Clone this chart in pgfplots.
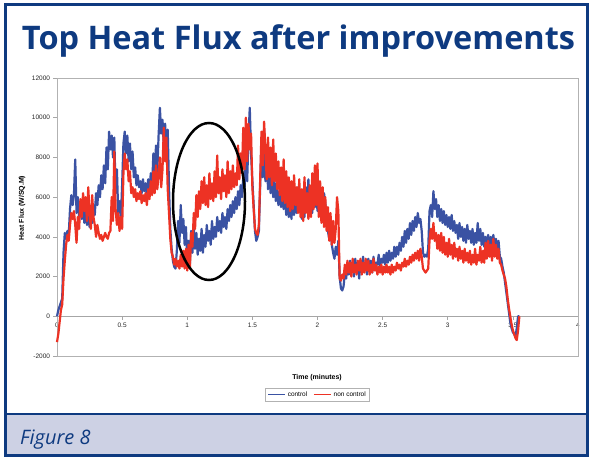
\documentclass[border=0pt]{standalone}
\usepackage{pgfplots}
\pgfplotsset{compat=1.18}
\usepackage{pgfplotstable}
\usepackage{graphicx}
\usepackage{fontspec}
\setmainfont{Liberation Sans}
\newfontfamily\titlefont{Open Sans}
\definecolor{navy}{RGB}{14,58,128}
\definecolor{lav}{RGB}{205,209,228}
\definecolor{ctrl}{RGB}{58,82,163}
\definecolor{nctrl}{RGB}{237,50,36}
\pgfplotstableread{
t c n
0.00 0 -1300
0.01 300 -900
0.02 500 -300
0.03 700 300
0.04 900 600
0.05 3200 1900
0.06 4200 2800
0.07 3900 3600
0.08 4300 4100
0.09 4100 3800
0.10 5400 4600
0.11 6100 5200
0.12 5600 4900
0.13 6100 5300
0.14 7900 4600
0.15 5200 3700
0.16 6000 5000
0.17 5000 4400
0.18 5800 5900
0.19 4900 5000
0.20 5600 6200
0.21 4700 5300
0.22 5400 6000
0.23 4600 4800
0.24 5200 6500
0.25 4500 5200
0.26 5100 4400
0.27 4700 6100
0.28 5600 5000
0.29 5100 4600
0.30 6200 4000
0.31 5600 4600
0.32 6600 4200
0.33 6000 3900
0.34 7100 4100
0.35 6400 3800
0.36 7600 4000
0.37 6700 4200
0.38 8500 4000
0.39 7400 3900
0.40 9300 4200
0.41 8400 4300
0.42 9100 6000
0.43 8000 4800
0.44 9000 8300
0.45 6200 5400
0.46 7400 4600
0.47 5200 5200
0.48 5800 4300
0.49 4900 5000
0.50 6600 4400
0.51 8700 7200
0.52 9300 8200
0.53 8200 7400
0.54 9100 7900
0.55 7800 6800
0.56 8700 7300
0.57 7400 6200
0.58 8300 6500
0.59 7000 6000
0.60 7500 6400
0.61 6600 5800
0.62 7100 6200
0.63 6500 5900
0.64 6800 6300
0.65 6200 5700
0.66 6900 6100
0.67 6300 5800
0.68 6700 6200
0.69 6100 5600
0.70 6900 6400
0.71 6300 5900
0.72 7200 6800
0.73 6500 6100
0.74 8200 7300
0.75 7000 6200
0.76 8600 7600
0.77 7300 6400
0.78 9100 7100
0.79 10500 8000
0.80 9200 6500
0.81 9900 7400
0.82 8600 9500
0.83 9700 7800
0.84 8300 9000
0.85 9400 6400
0.86 6500 5200
0.87 4400 3900
0.88 3400 3200
0.89 2800 3000
0.90 2500 2600
0.91 2400 2900
0.92 3300 2500
0.93 4800 2800
0.94 3700 2400
0.95 5600 3100
0.96 4200 2500
0.97 4900 3300
0.98 3600 2400
0.99 4500 3400
1.00 2700 2300
1.01 3800 3600
1.02 2600 2400
1.03 4300 4200
1.04 3200 3500
1.05 4500 5200
1.06 3400 4400
1.07 4200 6100
1.08 3100 5000
1.09 3900 6300
1.10 3300 5400
1.11 4400 6800
1.12 3200 5700
1.13 4100 7000
1.14 3500 5600
1.15 4600 6600
1.16 3800 5500
1.17 4300 7200
1.18 3600 5900
1.19 4800 6700
1.20 3900 5800
1.21 4500 7300
1.22 4000 6000
1.23 5000 8100
1.24 4300 6200
1.25 4800 7000
1.26 4200 5900
1.27 5200 7400
1.28 4500 6300
1.29 5000 7100
1.30 4400 6000
1.31 5400 7800
1.32 4800 6200
1.33 5600 7300
1.34 5000 6400
1.35 5800 7600
1.36 5200 6500
1.37 6000 7200
1.38 5400 6600
1.39 6300 8600
1.40 5600 6900
1.41 6600 8200
1.42 6000 7200
1.43 7000 9500
1.44 6500 7400
1.45 8000 10000
1.46 6800 7800
1.47 9000 9700
1.48 10500 8400
1.49 8200 9200
1.50 6800 6500
1.51 5600 5400
1.52 4300 4400
1.53 3800 4200
1.54 4000 4100
1.55 4300 4600
1.56 6600 6900
1.57 8800 9300
1.58 7000 7600
1.59 9400 9800
1.60 6800 8400
1.61 8500 6900
1.62 6400 9000
1.63 7300 7000
1.64 6200 8500
1.65 7000 6600
1.66 6000 8900
1.67 6800 6800
1.68 5800 8200
1.69 6500 6400
1.70 5600 7800
1.71 6300 6100
1.72 5500 7500
1.73 6100 5800
1.74 5400 7900
1.75 6200 5700
1.76 5100 7300
1.77 6000 5500
1.78 5000 7000
1.79 5800 5300
1.80 4900 6800
1.81 6000 5400
1.82 5100 7100
1.83 6300 5600
1.84 5200 6500
1.85 6500 5200
1.86 5400 6900
1.87 6200 5000
1.88 4900 6400
1.89 5800 4800
1.90 5000 7000
1.91 6500 5200
1.92 5300 6200
1.93 6900 4900
1.94 5600 6600
1.95 6200 5000
1.96 5200 7200
1.97 6800 5400
1.98 5500 7600
1.99 6400 5600
2.00 5300 7700
2.01 6600 5000
2.02 5600 6800
2.03 6400 4700
2.04 5400 6500
2.05 6200 4500
2.06 5700 6000
2.07 4800 4300
2.08 4300 5500
2.09 3900 3800
2.10 4500 5200
2.11 3600 3600
2.12 3200 4800
2.13 2900 3700
2.14 3500 4400
2.15 3100 6000
2.16 3800 5300
2.17 2000 1900
2.18 1400 1800
2.19 1300 2100
2.20 1500 1900
2.21 2200 2600
2.22 1900 2100
2.23 2600 2800
2.24 2100 2200
2.25 2800 2700
2.26 2200 2000
2.27 2700 2900
2.28 2000 2200
2.29 2900 2600
2.30 2300 2100
2.31 2600 2800
2.32 1900 2300
2.33 2800 2900
2.34 2200 2100
2.35 3000 2700
2.36 2300 2200
2.37 2700 2900
2.38 2100 2300
2.39 2900 2800
2.40 2400 2100
2.41 2800 2600
2.42 2200 2200
2.43 3000 2900
2.44 2400 2300
2.45 2700 2600
2.46 2600 2100
2.47 3100 2500
2.48 2500 2200
2.49 2900 2600
2.50 2700 2100
2.51 3100 2500
2.52 2600 2200
2.53 3200 2600
2.54 2700 2200
2.55 3300 2500
2.56 2800 2100
2.57 3200 2600
2.58 2900 2200
2.59 3500 2500
2.60 3000 2300
2.61 3500 2700
2.62 3100 2400
2.63 3700 2600
2.64 3300 2300
2.65 4000 2700
2.66 3500 2500
2.67 4300 2900
2.68 3700 2500
2.69 4400 2800
2.70 3900 2600
2.71 4700 3000
2.72 4100 2700
2.73 4800 3100
2.74 4300 2800
2.75 5000 3200
2.76 4500 2900
2.77 5200 3300
2.78 4700 2800
2.79 4900 3400
2.80 4300 3000
2.81 3200 2400
2.82 3000 2300
2.83 3100 2200
2.84 3000 2300
2.85 3400 2400
2.86 5300 3800
2.87 5600 4400
2.88 5000 3900
2.89 6300 4700
2.90 5400 3800
2.91 5900 4200
2.92 5000 3400
2.93 5600 4100
2.94 4800 3300
2.95 5400 4200
2.96 4700 3200
2.97 5300 4000
2.98 4600 3100
2.99 5100 3700
3.00 4500 3000
3.01 5000 3900
3.02 4400 3100
3.03 5100 3600
3.04 4300 2900
3.05 4800 3700
3.06 4200 3000
3.07 4600 3400
3.08 3900 2800
3.09 4700 3500
3.10 4000 2900
3.11 4500 3300
3.12 3800 2700
3.13 4400 3400
3.14 3700 2800
3.15 4600 3200
3.16 3900 2700
3.17 4300 3300
3.18 3700 2600
3.19 4400 3100
3.20 3600 2700
3.21 4200 3400
3.22 3700 2600
3.23 4700 3100
3.24 3800 2800
3.25 4400 3500
3.26 3600 2700
3.27 4200 3300
3.28 3500 2700
3.29 4000 3700
3.30 3600 2900
3.31 4100 3800
3.32 3500 3000
3.33 4000 3600
3.34 3400 2800
3.35 4100 3900
3.36 3500 3000
3.37 3900 3600
3.38 3400 2900
3.39 3800 3400
3.40 3000 2700
3.41 2900 2600
3.42 2500 2300
3.43 2200 2100
3.44 1700 1900
3.45 1200 1500
3.46 700 900
3.47 200 400
3.48 -300 0
3.49 -600 -400
3.50 -800 -700
3.51 -900 -900
3.52 -1000 -1100
3.53 -600 -1200
3.54 0 -700
3.55 0 0
}\data
\begin{document}
\begin{tikzpicture}
\path[use as bounding box, fill=white] (0,0) rectangle (600bp,465bp);
\fill[lav] (5bp,9bp) rectangle (587bp,51bp);
\draw[navy,line width=2.5bp] (5bp,51bp) -- (587bp,51bp);
\draw[navy,line width=3bp] (5bp,9bp) rectangle (587bp,460bp);
\node[anchor=base, text=navy, inner sep=0pt] at (298.5bp,415bp) {\resizebox{553bp}{!}{\titlefont\bfseries Top Heat Flux after improvements}};
\node[anchor=base west, text=navy, inner sep=0pt] at (20bp,21bp) {\titlefont\itshape\fontsize{20}{24}\selectfont Figure 8};
\begin{axis}[
  at={(57bp,109bp)}, anchor=south west, scale only axis,
  width=521bp, height=278bp,
  xmin=0, xmax=4, ymin=-2000, ymax=12000,
  axis x line*=middle, axis y line*=left,
  hide obscured x ticks=false, hide obscured y ticks=false,
  scaled y ticks=false, scaled x ticks=false,
  xtick={0,0.5,1,1.5,2,2.5,3,3.5,4},
  ytick={-2000,0,2000,4000,6000,8000,10000,12000},
  tick align=outside, major tick length=3.5bp,
  tick style={gray!70, line width=0.6bp},
  axis line style={gray!70, line width=0.8bp},
  ticklabel style={font=\fontsize{6.5}{7}\selectfont, text=black!85},
  /pgf/number format/assume math mode=true,
  /pgf/number format/1000 sep={},
  clip=false,
  legend style={at={(0.5,-0.1385)}, anchor=center, legend columns=2,
    draw=gray!60, line width=0.6bp, font=\fontsize{6.5}{7}\selectfont,
    inner sep=1.5bp, /tikz/every even column/.append style={column sep=4bp}},
  legend image code/.code={\draw[#1, line width=1.5bp] (0bp,0bp) -- (17bp,0bp);},
]
\draw[gray!60, line width=0.8bp] (rel axis cs:0,0) rectangle (rel axis cs:1,1);
\addplot[ctrl, line width=2.2bp, line join=round] table[x=t,y=c]{\data};
\addlegendentry{control}
\addplot[nctrl, line width=2.2bp, line join=round] table[x=t,y=n]{\data};
\addlegendentry{non control}
\end{axis}
\draw[black, line width=2.5bp] (209bp,263.5bp) ellipse [x radius=36bp, y radius=78.5bp];
\node[font=\bfseries\fontsize{7}{8}\selectfont] at (317bp,87bp) {Time (minutes)};
\node[font=\bfseries\fontsize{7}{8}\selectfont, rotate=90] at (22bp,257bp) {Heat Flux (W/SQ.M)};
\end{tikzpicture}
\end{document}
